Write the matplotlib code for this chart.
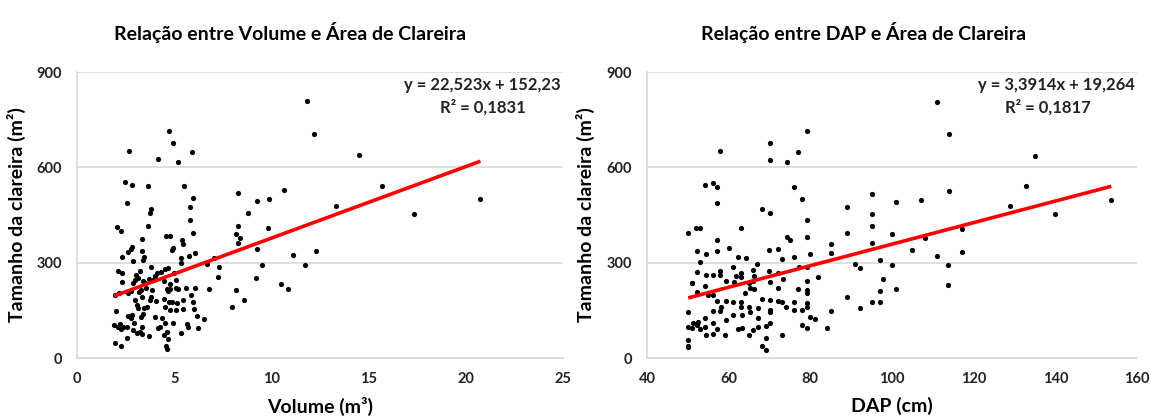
import numpy as np
import matplotlib.pyplot as plt

# Painel 1: Volume (m3) x area da clareira (m2)
volume = [11.85, 12.2, 4.75, 4.92, 2.66, 4.17, 5.21, 5.92, 2.49, 2.83, 3.64, 5.52, 5.97, 5.81,
          10.67, 8.28, 2.55, 3.79, 3.76, 9.89, 9.28, 8.80, 5.80, 2.07, 2.28, 3.64, 8.26, 9.83,
          5.95, 8.16, 8.38, 4.60, 4.78, 5.38, 5.47, 3.33, 2.83, 2.76, 2.64, 4.92, 4.87, 3.33,
          3.38, 3.46, 2.30, 2.90, 6.07, 5.74, 5.35, 5.35, 9.24, 8.26, 12.28, 11.13, 7.05, 6.69,
          7.30, 9.53, 11.71, 3.79, 2.11, 2.30, 3.22, 3.05, 2.33, 2.98, 2.90, 3.14, 3.41, 3.50,
          3.70, 3.99, 4.13, 3.93, 4.32, 4.53, 4.70, 4.99, 5.09, 4.49, 4.78, 7.27, 1.95, 2.18,
          2.62, 2.78, 3.19, 3.27, 3.55, 3.86, 4.61, 4.68, 4.78, 5.09, 5.18, 5.61, 6.07, 6.81,
          9.21, 8.18, 10.48, 10.87, 8.57, 7.96, 2.97, 3.33, 3.58, 3.45, 3.07, 3.15, 3.81, 3.76,
          4.05, 4.49, 4.53, 4.72, 4.86, 4.78, 5.09, 5.13, 5.43, 5.86, 5.98, 2.02, 2.64, 2.76,
          2.81, 3.27, 3.41, 4.01, 4.37, 4.92, 5.43, 6.01, 6.16, 6.52, 1.92, 2.09, 2.21, 2.38,
          2.26, 2.55, 2.93, 2.90, 3.07, 3.24, 3.36, 3.33, 3.72, 4.15, 4.27, 4.53, 4.61, 5.67,
          5.72, 6.24, 5.33, 2.59, 4.49, 4.66, 4.58, 4.61, 1.94, 2.26, 14.49, 15.69, 13.31,
          17.32, 20.75]
area_vol = [808, 705, 716, 678, 652, 625, 618, 650, 553, 545, 540, 541, 505, 476,
            529, 521, 489, 469, 455, 499, 493, 456, 434, 413, 401, 415, 417, 410,
            394, 390, 378, 384, 385, 371, 360, 374, 350, 342, 334, 347, 340, 338,
            310, 319, 318, 304, 331, 320, 314, 300, 342, 363, 338, 323, 315, 296,
            288, 294, 294, 287, 275, 267, 275, 261, 239, 245, 235, 251, 243, 235,
            248, 258, 267, 245, 271, 280, 282, 269, 245, 241, 233, 256, 198, 204,
            206, 212, 207, 214, 221, 214, 218, 211, 216, 221, 216, 221, 221, 218,
            251, 214, 232, 218, 183, 162, 183, 193, 162, 156, 167, 156, 191, 183,
            180, 185, 162, 175, 177, 151, 151, 172, 183, 198, 177, 149, 132, 127,
            135, 130, 137, 130, 127, 111, 154, 153, 132, 122, 104, 99, 106, 99,
            90, 99, 109, 88, 78, 83, 76, 99, 70, 93, 99, 109, 83, 107,
            99, 95, 78, 64, 72, 60, 39, 27, 46, 39, 640, 541, 479,
            454, 499]

# Painel 2: DAP (cm) x area da clareira (m2)
dap = [79.2, 70.1, 70.1, 74.2, 77.1, 58.0, 54.3, 56.1, 57.1, 76.0, 78.0, 57.1, 79.2, 68.1,
       70.1, 89.0, 95.0, 95.0, 95.0, 88.9, 50.1, 52.1, 53.1, 63.0, 74.2, 75.0, 79.2, 57.1,
       52.2, 54.4, 57.1, 70.0, 72.1, 60.2, 85.1, 85.1, 80.0, 76.0, 73.1, 66.9, 62.2, 64.2,
       61.0, 95.0, 91.0, 92.1, 58.0, 58.0, 53.1, 52.2, 54.4, 51.1, 52.2, 54.2, 56.1, 56.1,
       59.3, 61.8, 61.2, 63.0, 63.0, 65.1, 65.9, 66.2, 66.0, 65.3, 66.2, 64.1, 70.0, 70.1,
       72.0, 73.2, 72.0, 77.3, 79.2, 79.2, 79.2, 79.2, 77.1, 82.0, 88.9, 92.1, 95.0, 50.1,
       51.0, 54.9, 56.1, 57.1, 58.1, 58.0, 59.3, 59.3, 61.1, 61.1, 63.0, 63.0, 63.2, 65.1,
       65.2, 67.2, 67.2, 68.2, 70.1, 70.1, 70.1, 72.0, 73.1, 74.0, 76.0, 76.0, 78.0, 78.0,
       79.2, 79.2, 79.2, 80.0, 81.1, 85.1, 84.0, 50.1, 51.2, 52.2, 52.4, 53.1, 54.2, 54.2,
       54.4, 56.1, 57.1, 59.2, 62.2, 63.2, 65.1, 66.0, 67.2, 69.1, 69.1, 68.1, 69.1, 70.1,
       73.1, 50.1, 50.1, 50.1, 51.0, 56.1, 110.9, 114.0, 134.9, 132.9, 114.0, 101.0, 107.0,
       128.8, 140.0, 153.7, 100.1, 108.0, 117.1, 105.0, 110.9, 117.1, 97.1, 100.1, 113.8,
       97.9, 97.1, 97.1, 101.0, 113.8]
area_dap = [714, 677, 623, 617, 650, 652, 544, 552, 539, 537, 500, 487, 433, 468,
            455, 475, 517, 453, 416, 393, 395, 410, 410, 410, 382, 371, 381, 370,
            337, 326, 337, 339, 344, 347, 359, 330, 329, 319, 313, 297, 318, 316,
            285, 361, 295, 284, 273, 261, 301, 270, 261, 237, 209, 227, 261, 198,
            242, 259, 240, 269, 256, 237, 244, 258, 277, 221, 216, 204, 274, 240,
            267, 250, 221, 285, 287, 243, 214, 206, 216, 254, 193, 159, 177, 144,
            235, 198, 149, 178, 162, 149, 180, 120, 175, 135, 175, 160, 135, 162,
            146, 159, 125, 186, 183, 151, 146, 179, 175, 162, 177, 151, 151, 104,
            172, 162, 93, 130, 122, 149, 95, 99, 109, 104, 114, 90, 99, 125,
            71, 76, 90, 71, 92, 95, 71, 88, 99, 101, 62, 39, 25, 109,
            71, 57, 39, 34, 93, 109, 807, 705, 637, 540, 526, 490, 496,
            478, 453, 498, 389, 377, 406, 340, 322, 335, 308, 292, 292,
            250, 212, 177, 216, 230]

# Linhas de tendencia (coeficientes do Excel)
fit_vol = (22.523, 152.23)
fit_dap = (3.3914, 19.264)
r2_vol = "0,1831"
r2_dap = "0,1817"

plt.rcParams["font.family"] = ["Lato", "DejaVu Sans"]
plt.rcParams["font.weight"] = "bold"

GRID = "#d9d9d9"


def draw_panel(ax, x, y, fit, r2, eq_text, xlim, xticks, xlabel, r2_x):
    ax.scatter(x, y, s=14, color="black", zorder=3, linewidths=0)
    xs = np.array([min(x), max(x)])
    ax.plot(xs, np.polyval(fit, xs), color="#ff0000", lw=2.6, zorder=4,
            solid_capstyle="butt")

    ax.set_xlim(*xlim)
    ax.set_ylim(0, 900)
    ax.set_xticks(xticks)
    ax.set_yticks([0, 300, 600, 900])
    ax.yaxis.grid(True, color=GRID, lw=1.2)
    ax.set_axisbelow(True)
    for side in ["top", "right"]:
        ax.spines[side].set_visible(False)
    for side in ["left", "bottom"]:
        ax.spines[side].set_color(GRID)
        ax.spines[side].set_linewidth(1.2)
    ax.tick_params(length=0, labelsize=10.5, colors="#222222")
    ax.tick_params(axis="x", pad=10)
    ax.tick_params(axis="y", pad=11)
    for lab in ax.get_xticklabels() + ax.get_yticklabels():
        lab.set_fontweight("bold")

    ax.set_xlabel(xlabel, fontsize=14, fontweight="bold")
    ax.xaxis.set_label_coords(0.5, -0.135)
    ax.set_ylabel("Tamanho da clareira (m²)", fontsize=14, fontweight="bold")
    ax.yaxis.set_label_coords(-0.106, 0.5)

    ax.text(0.995, 0.955, eq_text, transform=ax.transAxes, ha="right", va="center",
            fontsize=12, fontweight="bold", color="#222222")
    ax.text(r2_x, 0.878, "R² = " + r2, transform=ax.transAxes, ha="center", va="center",
            fontsize=12, fontweight="bold", color="#222222")


fig = plt.figure(figsize=(11.5, 4.18), dpi=100)
ax1 = fig.add_axes([0.067, 0.1435, 0.4226, 0.684])
ax2 = fig.add_axes([0.5626, 0.1435, 0.4261, 0.684])

draw_panel(ax1, volume, area_vol, fit_vol, r2_vol, "y = 22,523x + 152,23",
           (0, 25), [0, 5, 10, 15, 20, 25], "Volume (m³)", 0.835)
draw_panel(ax2, dap, area_dap, fit_dap, r2_dap, "y = 3,3914x + 19,264",
           (40, 160), [40, 60, 80, 100, 120, 140, 160], "DAP (cm)", 0.818)

fig.text(0.252, 0.923, "Relação entre Volume e Área de Clareira", ha="center", va="center",
         fontsize=14, fontweight="bold")
fig.text(0.751, 0.923, "Relação entre DAP e Área de Clareira", ha="center", va="center",
         fontsize=14, fontweight="bold")

plt.savefig("out.png", dpi=100)
plt.close()
